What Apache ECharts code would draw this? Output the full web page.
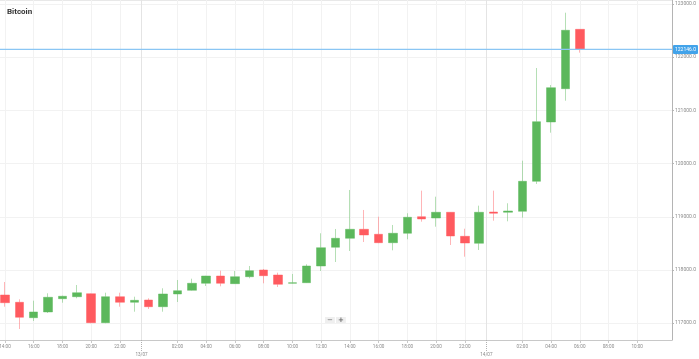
<!DOCTYPE html>
<html>
<head>
<meta charset="utf-8">
<script src="https://cdn.jsdelivr.net/npm/echarts@6/dist/echarts.min.js"></script>
<style>
html,body{margin:0;padding:0;background:#fff;}
#chart{width:699px;height:359px;}
</style>
</head>
<body>
<div id="chart"></div>
<script>
const chartTitle = 'Bitcoin';
// hourly slots from 12/07 14:00 to 14/07 12:00
const times = ['14:00','15:00','16:00','17:00','18:00','19:00','20:00','21:00','22:00','23:00',
  '00:00','01:00','02:00','03:00','04:00','05:00','06:00','07:00','08:00','09:00','10:00','11:00',
  '12:00','13:00','14:00','15:00','16:00','17:00','18:00','19:00','20:00','21:00','22:00','23:00',
  '00:00','01:00','02:00','03:00','04:00','05:00','06:00','07:00','08:00','09:00','10:00','11:00','12:00'];
const dateLabels = ['13/07','14/07'];
const openVals  = [117530,117393,117103,117211,117460,117498,117554,117009,117498,117393,117436,117310,117549,117618,117750,117887,117743,117874,118000,117906,117750,117761,118075,118427,118596,118765,118671,118513,118690,119002,118977,119085,118633,118502,119090,119085,119103,119667,120782,121408,122524];
const closeVals = [117385,117111,117211,117487,117506,117573,117009,117498,117393,117430,117310,117549,117611,117750,117887,117750,117874,117987,117893,117731,117761,118075,118419,118596,118765,118658,118513,118690,118991,118959,119085,118639,118507,119085,119066,119109,119667,120788,121427,122506,122146];
const lowVals   = [117310,116891,117041,117192,117385,117468,117000,117000,117310,117216,117267,117216,117398,117611,117699,117693,117740,117844,117750,117680,117745,117755,117981,118150,118357,118526,118505,118370,118577,118908,118814,118470,118250,118376,118927,118915,118983,119617,120581,121182,122085];
const highVals  = [117774,117449,117423,117562,117517,117718,117560,117573,117573,117498,117468,117656,117812,117836,117890,117987,117981,118075,118019,117949,117925,118107,118690,118771,119504,119128,119002,118846,119066,119491,119378,119090,118776,119209,119491,119254,120055,121797,121477,122836,122524];
const yTicks = [117000,118000,119000,120000,121000,122000,123000];

const candleData = openVals.map((o, i) => [i, o, closeVals[i], lowVals[i], highVals[i]]);
const lastClose = closeVals[closeVals.length - 1];

// tick positions on the hour axis: even hours except midnight, with room before the right edge
const hourTicks = [];
times.forEach((t, i) => {
  const h = parseInt(t, 10);
  if (h % 2 === 0 && h !== 0 && i <= 44) hourTicks.push(i);
});
const dateTicks = [];
times.forEach((t, i) => { if (t === '00:00') dateTicks.push(i - 0.5); });

const xMin = -0.348, xMax = 46.42;
const chart = echarts.init(document.getElementById('chart'));
chart.setOption({
  animation: false,
  backgroundColor: '#fff',
  title: {
    text: chartTitle, left: 7, top: 8, padding: 0,
    textStyle: { fontSize: 8, fontWeight: 'bold', color: '#333', fontFamily: 'Roboto' }
  },
  grid: { left: 0, right: 27, top: 0, bottom: 19, containLabel: false, outerBoundsMode: 'none' },
  xAxis: [{
    type: 'value', min: xMin, max: xMax,
    axisLine: { show: true, onZero: false, lineStyle: { color: '#c8c8c8', width: 1 } },
    axisTick: { show: true, length: 3, customValues: hourTicks, lineStyle: { color: '#c8c8c8' } },
    axisLabel: {
      customValues: hourTicks, margin: 4, fontSize: 4.6, color: '#8a8a8a', fontFamily: 'Roboto',
      formatter: v => times[Math.round(v)], showMinLabel: true, showMaxLabel: true
    },
    splitLine: { show: true, lineStyle: { color: '#f2f2f2', width: 1 } }
  }, {
    type: 'value', min: xMin, max: xMax, position: 'bottom',
    axisLine: { show: false, onZero: false },
    axisTick: { show: true, length: 11, customValues: dateTicks, lineStyle: { color: '#b0b0b0', type: [1, 1] } },
    axisLabel: {
      customValues: dateTicks, margin: 12, fontSize: 4.6, color: '#8a8a8a', fontFamily: 'Roboto',
      formatter: v => dateLabels[dateTicks.indexOf(v)] || ''
    },
    splitLine: { show: true, lineStyle: { color: '#e4e4e4', width: 1 } }
  }],
  yAxis: {
    type: 'value', position: 'right', min: 116684, max: 123075, scale: true,
    axisLine: { show: true, onZero: false, lineStyle: { color: '#b4b4b4', width: 1 } },
    axisTick: { show: true, length: 2, customValues: yTicks, lineStyle: { color: '#b4b4b4' } },
    axisLabel: {
      customValues: yTicks, margin: 3, fontSize: 5, color: '#8a8a8a', fontFamily: 'Roboto',
      formatter: v => Number(v).toFixed(1)
    },
    splitLine: { show: true, lineStyle: { color: '#f2f2f2', width: 1 } }
  },
  series: [{
    type: 'candlestick',
    xAxisIndex: 0,
    data: candleData,
    barWidth: 9,
    itemStyle: {
      color: '#5cb85c', color0: '#ff5a5f',
      borderColor: 'rgba(92,184,92,0.45)', borderColor0: 'rgba(255,90,95,0.45)',
      borderWidth: 1
    }
  }, {
    type: 'line',
    name: 'price',
    xAxisIndex: 0,
    data: [[xMin, lastClose], [xMax, lastClose]],
    symbol: 'none',
    silent: true,
    color: '#8ac6f4',
    lineStyle: { color: '#8ac6f4', width: 1.3 },
    endLabel: {
      show: true, distance: 1,
      formatter: () => lastClose.toFixed(1),
      color: '#fff', fontSize: 5, fontFamily: 'Roboto',
      backgroundColor: '#42a3ea', padding: [2, 2], borderRadius: 1
    }
  }],
  graphic: [
    { type: 'line', shape: { x1: 0, y1: 0.5, x2: 672, y2: 0.5 }, style: { stroke: '#e8e8e8', lineWidth: 1 }, silent: true },
    { type: 'text', left: 325, top: 317, style: { text: '−', fontSize: 7, fill: '#666', backgroundColor: '#efefef', padding: [0, 2], fontFamily: 'DejaVu Sans' } },
    { type: 'text', left: 336, top: 317, style: { text: '+', fontSize: 7, fill: '#666', backgroundColor: '#efefef', padding: [0, 2], fontFamily: 'DejaVu Sans', fontWeight: 'bold' } }
  ]
});
</script>
</body>
</html>
